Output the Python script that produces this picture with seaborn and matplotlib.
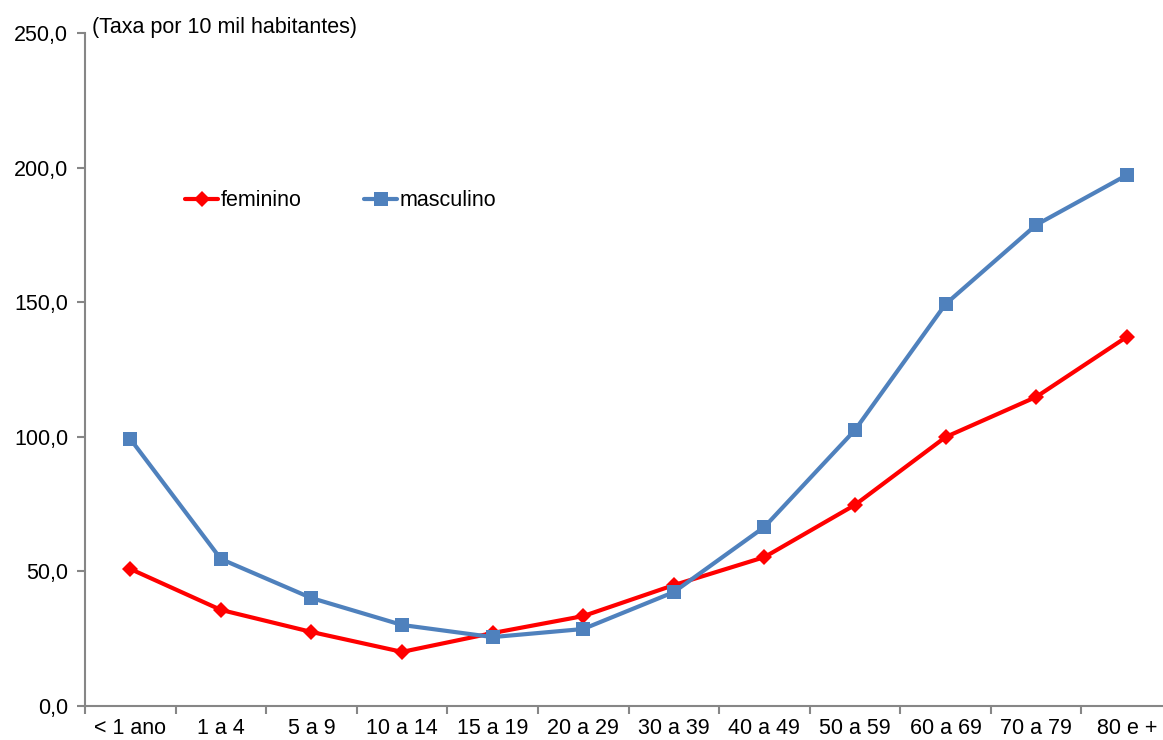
import matplotlib
matplotlib.use("Agg")
import matplotlib.pyplot as plt
import seaborn as sns
import pandas as pd
import numpy as np
from matplotlib.ticker import FixedLocator, FuncFormatter
from matplotlib.lines import Line2D

faixas = ["< 1 ano", "1 a 4", "5 a 9", "10 a 14", "15 a 19", "20 a 29",
          "30 a 39", "40 a 49", "50 a 59", "60 a 69", "70 a 79", "80 e +"]
feminino = [50.9, 35.7, 27.5, 20.1, 27.1, 33.4, 44.9, 55.3, 74.7, 99.9, 114.8, 137.1]
masculino = [99.2, 54.6, 40.1, 30.1, 25.6, 28.6, 42.3, 66.5, 102.5, 149.3, 178.7, 197.2]
y_ticks = [0, 50, 100, 150, 200, 250]

sns.set_theme(style="white")
plt.rcParams["font.family"] = ["Liberation Sans", "DejaVu Sans"]
plt.rcParams["text.color"] = "black"
plt.rcParams["xtick.color"] = "black"
plt.rcParams["ytick.color"] = "black"

FS = 15.5

df = pd.DataFrame({
    "pos": list(range(len(faixas))) * 2,
    "taxa": feminino + masculino,
    "sexo": ["feminino"] * len(faixas) + ["masculino"] * len(faixas),
})

fig = plt.figure(figsize=(11.63, 7.40), dpi=100)
ax = fig.add_axes([85 / 1163, 1 - 706 / 740, (1172 - 85) / 1163, (706 - 33) / 740])

palette = {"feminino": "#FF0000", "masculino": "#4F81BD"}
sns.lineplot(data=df, x="pos", y="taxa", hue="sexo", style="sexo",
             palette=palette, markers={"feminino": "D", "masculino": "s"},
             dashes=False, linewidth=3, markersize=9, markeredgewidth=0,
             ax=ax, legend=False)
for line in ax.lines:
    if line.get_marker() == "D":
        line.set_markersize(8)
    else:
        line.set_markersize(10)

ax.set_xlim(-0.5, len(faixas) - 0.5)
ax.set_ylim(0, 250)
ax.set_xlabel("")
ax.set_ylabel("")

axis_color = "#868686"
for side in ["top", "right"]:
    ax.spines[side].set_visible(False)
for side in ["left", "bottom"]:
    ax.spines[side].set_color(axis_color)
    ax.spines[side].set_linewidth(1.5)

ax.yaxis.set_major_locator(FixedLocator(y_ticks))
ax.yaxis.set_major_formatter(FuncFormatter(lambda v, p: f"{v:.1f}".replace(".", ",")))
ax.tick_params(axis="y", which="major", direction="out", length=6, width=1.5,
               color=axis_color, labelcolor="black", labelsize=FS, pad=6, left=True)

# boundary ticks between categories, labels at category centres
ax.xaxis.set_major_locator(FixedLocator(np.arange(-0.5, len(faixas), 1.0)))
ax.xaxis.set_major_formatter(FuncFormatter(lambda v, p: ""))
ax.xaxis.set_minor_locator(FixedLocator(np.arange(len(faixas))))
ax.set_xticklabels(faixas, minor=True)
ax.tick_params(axis="x", which="major", direction="out", length=6, width=1.5,
               color=axis_color, bottom=True)
ax.tick_params(axis="x", which="minor", length=0, labelsize=FS, labelcolor="black",
               pad=9, bottom=True)

fig.text(92 / 1163, 1 - 27 / 740, "(Taxa por 10 mil habitantes)",
         fontsize=FS, ha="left", va="center", color="black")

handles = [
    Line2D([], [], color=palette["feminino"], marker="D", markersize=8, linewidth=3, markeredgewidth=0),
    Line2D([], [], color=palette["masculino"], marker="s", markersize=10, linewidth=3, markeredgewidth=0),
]
ax.legend(handles, ["feminino", "masculino"], ncol=2, frameon=False,
          loc="center left", bbox_to_anchor=((185 - 85) / 1087, (706 - 201) / 673),
          bbox_transform=ax.transAxes, fontsize=FS, handlelength=1.55,
          handletextpad=0.1, columnspacing=2.9, borderaxespad=0, borderpad=0)

fig.savefig("out.png", dpi=100)
